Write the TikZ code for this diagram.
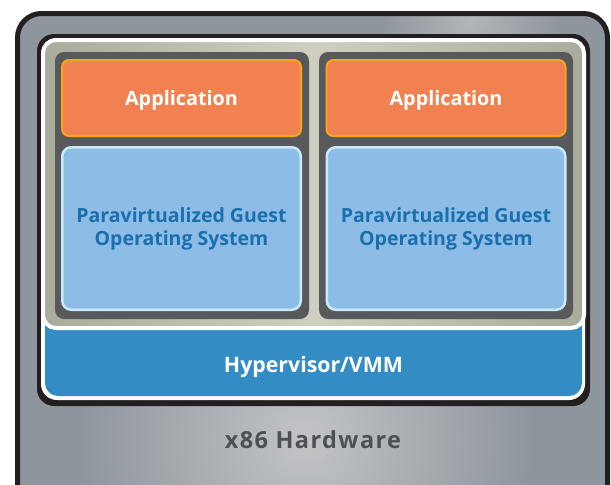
\documentclass[tikz,border=0pt]{standalone}
\usepackage{fontspec}
\setmainfont{Open Sans}
\definecolor{blackc}{HTML}{231F20}
\definecolor{grayb}{HTML}{8E959D}
\definecolor{grayl}{HTML}{C2C4C6}
\definecolor{beigeb}{HTML}{A8AC9B}
\definecolor{beigel}{HTML}{CFCFC1}
\definecolor{vmgray}{HTML}{58595B}
\definecolor{appfill}{HTML}{F18150}
\definecolor{appborder}{HTML}{F7A51D}
\definecolor{osfill}{HTML}{8DBDE6}
\definecolor{osborder}{HTML}{C8E9F9}
\definecolor{ostext}{HTML}{1A6FAE}
\definecolor{hyperblue}{HTML}{338CC4}
\definecolor{hwtext}{HTML}{4E5153}
\begin{document}
\begin{tikzpicture}[x=1pt,y=-1pt,
  lbl/.style={font=\bfseries\fontsize{19.8}{23}\selectfont, align=center, inner sep=0pt},
  vmbox/.style={fill=vmgray, draw=none, rounded corners=9, minimum width=254pt, minimum height=267pt, inner sep=0pt},
  appbox/.style={fill=appfill, draw=appborder, line width=2pt, rounded corners=7, minimum width=239pt, minimum height=76pt, inner sep=0pt},
  osbox/.style={fill=osfill, draw=osborder, line width=2.5pt, rounded corners=9, minimum width=238.5pt, minimum height=162.5pt, inner sep=0pt}]
\useasboundingbox (0,0) rectangle (611,485);
% outer hardware box
\begin{scope}
  \clip[rounded corners=24] (17.5,13.5) rectangle (607.5,510);
  \fill[grayb] (0,0) rectangle (611,510);
  \shade[inner color=grayl, outer color=grayb] (305,440) circle (230pt);
  \shade[inner color=grayl!70!grayb, outer color=grayb] (470,20) circle (90pt);
\end{scope}
\draw[line width=5pt, blackc, rounded corners=24] (17.5,13.5) rectangle (607.5,510);
% inner frame
\fill[blackc, rounded corners=17] (37,34) rectangle (590,406);
\fill[white, rounded corners=16] (41,38) rectangle (585,400);
\fill[hyperblue, rounded corners=13] (45,42) rectangle (582,396);
\shade[left color=beigeb, right color=beigeb, middle color=beigel] (43,40) [rounded corners=13] rectangle (584,328);
\draw[white, line width=4pt, rounded corners=13] (43,40) rectangle (584,328);
% VMs
\node[vmbox] (vm1) at (182,185.5) {};
\node[vmbox] (vm2) at (446,185.5) {};
\node[appbox] (app1) at (181.5,98) {};
\node[appbox] (app2) at (446,98) {};
\node[osbox] (os1) at (181.5,228.5) {};
\node[osbox] (os2) at (446,228.5) {};
% labels
\node[lbl, text=white, anchor=base] (t1) at (181.5,105) {Application};
\node[lbl, text=white, anchor=base] (t2) at (446,105) {Application};
\begin{scope}[lbl/.append style={font=\bfseries\fontsize{19.5}{23}\selectfont}]
\node[lbl, text=ostext, anchor=base] (t3) at (181.5,222) {Paravirtualized Guest};
\node[lbl, text=ostext, anchor=base] (t4) at (181.5,245) {Operating System};
\node[lbl, text=ostext, anchor=base] (t5) at (446,222) {Paravirtualized Guest};
\node[lbl, text=ostext, anchor=base] (t6) at (446,245) {Operating System};
\end{scope}
\node[lbl, text=white, anchor=base, font=\bfseries\fontsize{21.3}{25}\selectfont] (t7) at (313.5,372) {Hypervisor/VMM};
\node[lbl, text=hwtext, anchor=base, font=\bfseries\fontsize{23.5}{27}\selectfont\addfontfeatures{LetterSpace=6}] (t8) at (313,448) {x86 Hardware};
\end{tikzpicture}
\end{document}
